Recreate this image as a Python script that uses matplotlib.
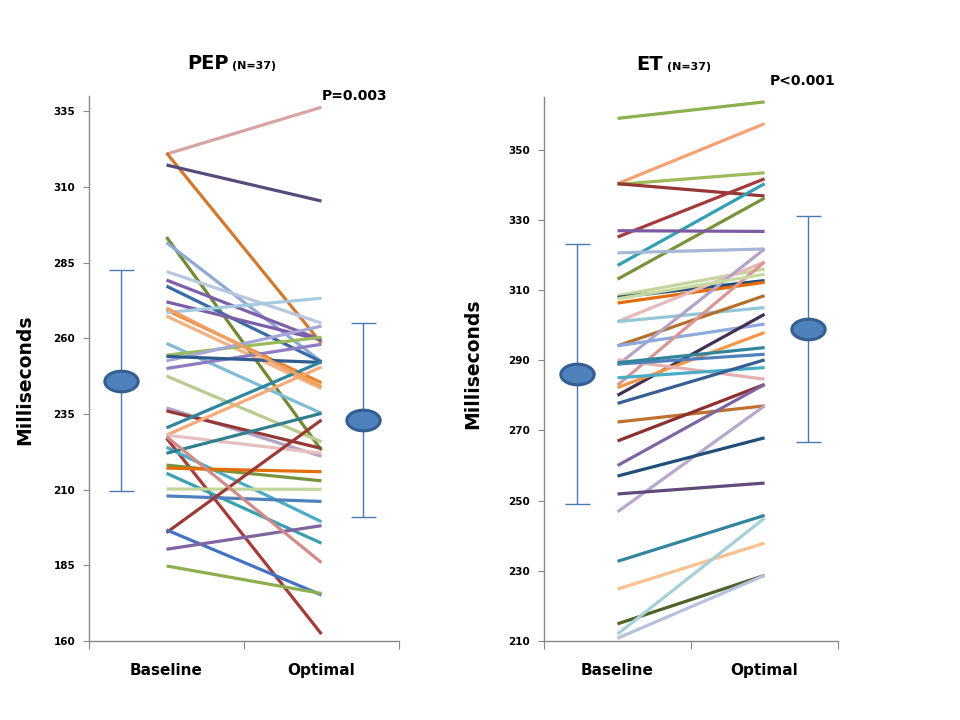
import numpy as np
import matplotlib
matplotlib.use("Agg")
import matplotlib.pyplot as plt
from matplotlib.path import Path
from matplotlib.transforms import Affine2D

# PEP (ms): baseline, optimal, colour for each patient
pep_base = [320.8, 321.2, 317.2, 293.4, 291.6, 282.0, 279.2, 277.2, 272.0, 269.3,
            268.5, 267.3, 258.3, 254.4, 252.5, 250.0, 254.0, 247.5, 237.0, 236.0,
            230.4, 228.0, 228.0, 227.0, 224.0, 222.0, 218.1, 217.1, 215.4, 210.2,
            207.9, 195.8, 196.7, 190.3, 184.8, 227.5, 270.0]
pep_opt = [336.3, 258.3, 305.3, 223.0, 252.2, 265.0, 259.4, 252.2, 259.4, 245.3,
           273.2, 243.4, 235.2, 260.3, 264.0, 258.0, 252.0, 225.8, 221.0, 223.6,
           252.2, 250.5, 222.0, 162.3, 199.4, 235.2, 212.9, 215.9, 192.3, 210.1,
           206.1, 233.0, 175.2, 198.1, 175.7, 185.9, 244.0]
pep_colors = ['#d9a3a3', '#d07a30', '#574a7a', '#6f8a32', '#8eaad3', '#b9c8e0',
              '#7f5fa8', '#386aa6', '#7b5ea7', '#e6852e', '#a5cbe1', '#f4b183',
              '#7fbcd5', '#9bbb59', '#a6a6d8', '#8e7cc3', '#2f5c8f', '#b8cc8f',
              '#b3a2c7', '#953735', '#31859c', '#f8a97a', '#e6c0bf', '#a33b3b',
              '#4bacc6', '#2f7f8f', '#77933c', '#e46c0a', '#3a9fb0', '#c3d69b',
              '#4f81bd', '#9c3a36', '#4472c4', '#8064a2', '#8db04e', '#d08a88',
              '#f0a060']

# ET (ms)
et_base = [358.9, 340.3, 340.1, 340.3, 325.1, 317.0, 313.1, 326.9, 320.6, 308.4,
           307.9, 306.3, 301.0, 301.0, 294.1, 288.6, 294.1, 280.0, 282.9, 282.2,
           290.1, 288.9, 285.0, 289.3, 277.7, 272.4, 267.0, 260.0, 246.8, 257.0,
           251.9, 232.7, 224.8, 214.9, 212.0, 210.8, 307.5]
et_opt = [363.6, 357.4, 343.4, 336.8, 341.7, 340.3, 336.2, 326.7, 321.7, 316.0,
          312.7, 312.2, 318.0, 305.0, 308.4, 321.7, 300.3, 303.1, 318.0, 297.9,
          284.6, 291.7, 287.9, 293.6, 290.1, 277.0, 283.1, 283.1, 277.0, 267.9,
          255.0, 245.8, 237.9, 228.7, 245.0, 228.7, 314.5]
et_colors = ['#8db04e', '#f7a072', '#9bbb59', '#953735', '#a33b3b', '#31a0b5',
             '#77933c', '#7b5aa0', '#a6b7d8', '#c3d69b', '#1f4e79', '#e46c0a',
             '#e6b9b8', '#93c6d8', '#b3702c', '#b3a2c7', '#8ea9db', '#403152',
             '#d99694', '#f79646', '#e6b0b0', '#4f81bd', '#4bacc6', '#31859c',
             '#366092', '#c0712e', '#8b2f2f', '#8064a2', '#b7a8cc', '#1f4e79',
             '#604a7b', '#31859c', '#fac090', '#4f6228', '#a5d0d8', '#b7c1de',
             '#c7dba0']

pep_mean = [246.0, 233.0]
pep_sd = [36.4, 32.0]
et_mean = [286.0, 299.0]
et_sd = [37.0, 32.2]

categories = ['Baseline', 'Optimal']

ellipse = Path.unit_circle().transformed(Affine2D().scale(1.0, 0.62))


def draw_panel(ax, base, opt, colors, mean, sd, ylim, yticks, err_x):
    for b, o, c in zip(base, opt, colors):
        ax.plot([0.5, 1.5], [b, o], color=c, lw=2.3, solid_capstyle='butt')
    ax.errorbar(err_x, mean, yerr=sd, fmt='none', ecolor='#4a7ab5',
                elinewidth=1.0, capsize=9, capthick=1.0)
    ax.plot(err_x, mean, linestyle='none', marker=ellipse, markersize=24,
            markerfacecolor='#4f81bd', markeredgecolor='#365f91',
            markeredgewidth=2.2, zorder=5)
    ax.set_xlim(0, 2)
    ax.set_ylim(*ylim)
    ax.set_yticks(yticks)
    ax.set_yticklabels([str(t) for t in yticks], fontsize=7.5, fontweight='bold')
    ax.set_xticks([0, 1, 2])
    ax.set_xticklabels([])
    ax.set_xticks([0.5, 1.5], minor=True)
    ax.set_xticklabels(categories, minor=True, fontsize=11, fontweight='bold')
    ax.tick_params(axis='x', which='minor', length=0, pad=16)
    ax.tick_params(axis='x', which='major', length=6, color='#888888', direction='out')
    ax.tick_params(axis='y', length=4, color='#888888', direction='out', pad=6)
    for s in ['top', 'right']:
        ax.spines[s].set_visible(False)
    for s in ['left', 'bottom']:
        ax.spines[s].set_color('#888888')
        ax.spines[s].set_linewidth(1.0)
    ax.set_ylabel('Milliseconds', fontsize=13.5, fontweight='bold')


fig = plt.figure(figsize=(9.6, 7.2), dpi=100)

ax1 = fig.add_axes([0.0927, 0.1097, 0.3229, 0.757])
draw_panel(ax1, pep_base, pep_opt, pep_colors, pep_mean, pep_sd,
           (160, 340), list(range(160, 336, 25)), [0.206, 1.768])
ax1.yaxis.set_label_coords(-0.175, 0.48)
ax1.text(0.452, 1.05, 'PEP', transform=ax1.transAxes, ha='right', va='baseline',
         fontsize=14, fontweight='bold')
ax1.text(0.462, 1.05, '(N=37)', transform=ax1.transAxes, ha='left', va='baseline',
         fontsize=8, fontweight='bold')
ax1.text(1.5, 1.0, 'P=0.003', transform=ax1.get_xaxis_transform(), ha='left',
         va='center', fontsize=10, fontweight='bold')

ax2 = fig.add_axes([0.5667, 0.1097, 0.3063, 0.7556])
draw_panel(ax2, et_base, et_opt, et_colors, et_mean, et_sd,
           (210, 365), list(range(210, 351, 20)), [0.222, 1.796])
ax2.yaxis.set_label_coords(-0.21, 0.51)
ax2.text(0.405, 1.05, 'ET', transform=ax2.transAxes, ha='right', va='baseline',
         fontsize=14, fontweight='bold')
ax2.text(0.418, 1.05, '(N=37)', transform=ax2.transAxes, ha='left', va='baseline',
         fontsize=8, fontweight='bold')
ax2.text(1.537, 1.03, 'P<0.001', transform=ax2.get_xaxis_transform(), ha='left',
         va='center', fontsize=10, fontweight='bold')

fig.savefig('out.png', dpi=100)
